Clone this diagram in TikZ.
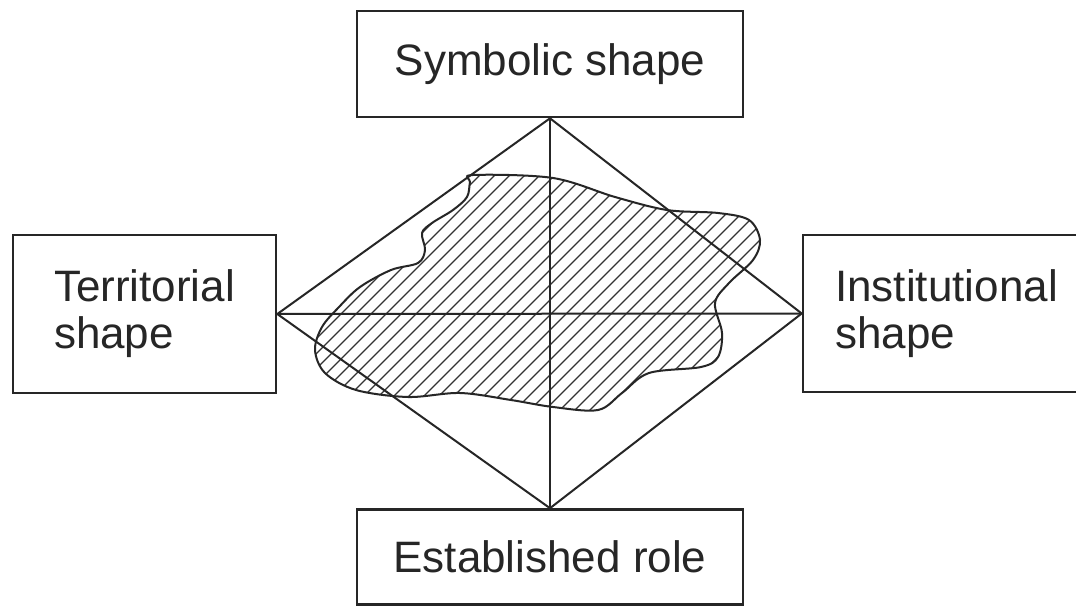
\documentclass[tikz,border=0pt]{standalone}
\usepackage{fontspec}
\setmainfont{Liberation Sans}
\begin{document}
\begin{tikzpicture}[x=1pt,y=-1pt,
  box/.style={draw=black!85,line width=2.6pt,rectangle,inner sep=0pt,
    font=\fontsize{44}{47}\selectfont,text=black!85,align=left},
  edge/.style={draw=black!85,line width=2pt},
  hatch/.style={draw=black!80,line width=1.1pt}]
\useasboundingbox (0,0) rectangle (1076,607);
\clip (0,0) rectangle (1076,607);
\fill[white] (0,0) rectangle (1076,607);
% boxes
\node[box,minimum width=386pt,minimum height=106pt] (sym) at (550,64) {Symbolic shape};
\node[box,minimum width=386pt,minimum height=95pt] (est) at (550,557) {Established role};
\node[box,minimum width=263pt,minimum height=158pt] (ter) at (144.5,314) {Territorial\\shape};
\node[box,minimum width=287pt,minimum height=157pt] (ins) at (946.5,313.5) {Institutional\\shape};
% blob hatch
\def\blob{plot[smooth cycle,tension=0.55] coordinates {
 (473,175) (553,178) (615,197) (667,210) (718,213) (749,220) (760,240) (753,260)
 (729,283) (715,303) (722,333) (718,357) (701,367) (649,373) (622,393) (598,410)
 (553,407) (511,400) (460,393) (408,397) (356,390) (325,373) (315,350) (322,327)
 (339,307) (360,287) (391,270) (418,263) (425,250) (422,233) (432,223) (453,210)
 (467,197) (470,182)}}
\begin{scope}
\clip \blob;
\foreach \c in {0,15,...,780} \draw[hatch] (\c,430) -- ++(300,-300);
\end{scope}
\draw[edge] \blob;
% diamond
\coordinate (T) at (sym.south);
\coordinate (B) at (est.north);
\coordinate (L) at (ter.east);
\coordinate (R) at (ins.west);
\draw[edge] (T) -- (R) -- (B) -- (L) -- cycle;
\draw[edge] (L) -- (R);
\draw[edge] (T) -- (B);
\end{tikzpicture}
\end{document}
